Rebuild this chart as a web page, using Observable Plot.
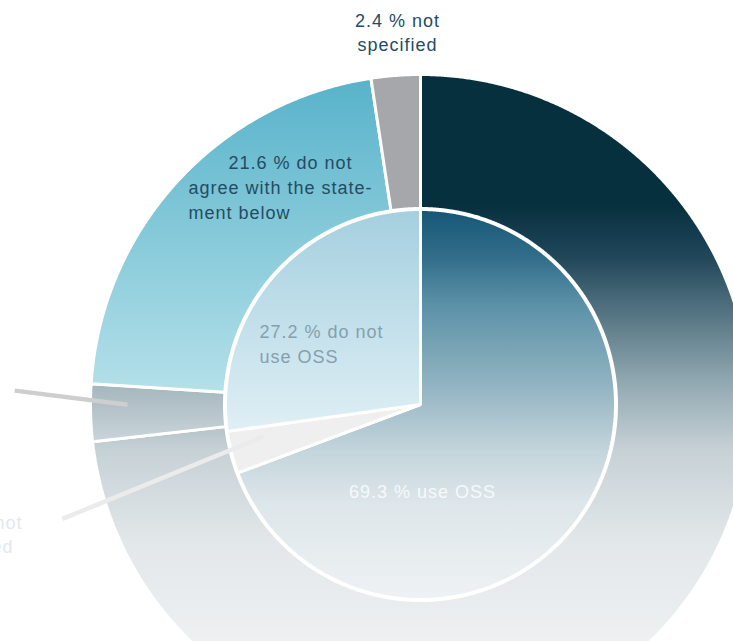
<!DOCTYPE html>
<html>
<head>
<meta charset="utf-8">
<script src="https://cdn.jsdelivr.net/npm/d3@7"></script>
<script src="https://cdn.jsdelivr.net/npm/@observablehq/plot@0.6"></script>
<style>
  html, body { margin: 0; padding: 0; background: #fff; overflow: hidden; }
  #chart svg text { letter-spacing: 1px; }
</style>
</head>
<body>
<div id="chart"></div>
<script>
// ---------- DATA ----------
const innerCategories = ["use OSS", "not specified", "do not use OSS"];
const innerValues = [69.3, 3.5, 27.2];

const outerCategories = ["agree with the statement below", "other", "do not agree with the statement below", "not specified"];
const outerValues = [73.2, 2.8, 21.6, 2.4];

const labelLines = [
  "2.4 % not", "specified",
  "21.6 % do not", "agree with the state-", "ment below",
  "27.2 % do not", "use OSS",
  "69.3 % use OSS",
  "3.5 % not", "specified"
];

// ---------- LAYOUT / STYLE ----------
const W = 733, H = 641;
const cx = 420, cy = 404;                 // pie centre in pixels
const pieR = 195, ringR0 = 196, ringR1 = 330;
const deg = Math.PI / 180;

const innerFills = ["url(#gUse)", "#efefef", "url(#gNotUse)"];
const outerFills = ["url(#gAgree)", "url(#gOther)", "url(#gDisagree)", "#a6a7ab"];

const gradients = [
  {id: "gAgree", y1: 205, y2: 641, stops: [[0, "#07303f"], [0.12, "#21475a"], [0.22, "#4a6b7a"], [0.40, "#8fa7b0"], [0.56, "#c6d1d6"], [0.77, "#e2e7e9"], [1, "#eef0f1"]]},
  {id: "gUse", y1: 208, y2: 600, stops: [[0, "#155675"], [0.13, "#336f8a"], [0.24, "#5a90a7"], [0.44, "#8fb2c0"], [0.62, "#c4d5dc"], [0.75, "#dde6ea"], [1, "#eff2f4"]]},
  {id: "gNotUse", y1: 208, y2: 430, stops: [[0, "#a4cfdf"], [1, "#dfeff5"]]},
  {id: "gDisagree", y1: 80, y2: 390, stops: [[0, "#58b3ca"], [1, "#b4e0e9"]]},
  {id: "gOther", y1: 378, y2: 442, stops: [[0, "#a1b3bb"], [1, "#cad5da"]]}
];

// label layout: pixel anchor, text-anchor, colour (one per labelLines entry)
const labelLayout = [
  {px: 397, py: 26, anchor: "middle", color: "#234c64"},
  {px: 397, py: 50, anchor: "middle", color: "#234c64"},
  {px: 228, py: 168, anchor: "start", color: "#234c64"},
  {px: 188, py: 193, anchor: "start", color: "#234c64"},
  {px: 188, py: 218, anchor: "start", color: "#234c64"},
  {px: 259, py: 337, anchor: "start", color: "#84a0ad"},
  {px: 259, py: 362, anchor: "start", color: "#84a0ad"},
  {px: 422, py: 497, anchor: "middle", color: "#f7f9fa"},
  {px: 22, py: 528, anchor: "end", color: "#e3e8eb"},
  {px: 13, py: 552, anchor: "end", color: "#e3e8eb"}
];

// ---------- GEOMETRY FROM DATA ----------
const pie = d3.pie().sort(null).value(d => d);
const innerArcs = pie(innerValues);
const outerArcs = pie(outerValues);

const polar = (a, r) => ({x: r * Math.sin(a), y: r * Math.cos(a)});

function slicePoints(arc, r0, r1) {
  const a0 = arc.startAngle, a1 = arc.endAngle;
  const n = Math.max(2, Math.ceil((a1 - a0) / (0.25 * deg)));
  const pts = [];
  for (let i = 0; i <= n; i++) pts.push(polar(a0 + (a1 - a0) * i / n, r1));
  if (r0 > 0) {
    for (let i = n; i >= 0; i--) pts.push(polar(a0 + (a1 - a0) * i / n, r0));
  } else {
    pts.push({x: 0, y: 0});
  }
  return pts;
}

const sliceMarks = [
  ...outerArcs.map((arc, i) => Plot.line(slicePoints(arc, ringR0, ringR1), {
    x: "x", y: "y", curve: "linear-closed", fill: outerFills[i],
    stroke: "white", strokeWidth: 3, strokeLinejoin: "miter"
  })),
  ...innerArcs.map((arc, i) => Plot.line(slicePoints(arc, 0, pieR), {
    x: "x", y: "y", curve: "linear-closed", fill: innerFills[i],
    stroke: "white", strokeWidth: 3, strokeLinejoin: "miter"
  }))
];

// leader lines, anchored to slice mid-angles
const mid = arc => (arc.startAngle + arc.endAngle) / 2;
const leaders = [
  {arc: outerArcs[1], aFrom: 3.4, rFrom: 406, aTo: 1.4, rTo: 293, color: "#cecece"},
  {arc: innerArcs[1], aFrom: -3.5, rFrom: 376, aTo: 2.7, rTo: 160, color: "#ebebeb"}
].map(l => {
  const p1 = polar(mid(l.arc) + l.aFrom * deg, l.rFrom);
  const p2 = polar(mid(l.arc) + l.aTo * deg, l.rTo);
  return {x1: p1.x, y1: p1.y, x2: p2.x, y2: p2.y, color: l.color};
});

const labels = labelLines.map((t, i) => ({
  text: t,
  x: labelLayout[i].px - cx,
  y: cy - labelLayout[i].py,
  anchor: labelLayout[i].anchor,
  color: labelLayout[i].color
}));

const textMarks = ["start", "middle", "end"].map(anchor =>
  Plot.text(labels.filter(d => d.anchor === anchor), {
    x: "x", y: "y", text: "text", fill: "color",
    textAnchor: anchor, lineAnchor: "bottom",
    fontSize: 18, fontFamily: "Liberation Sans, Arial, sans-serif"
  })
);

const svg = Plot.plot({
  width: W, height: H,
  marginTop: 0, marginRight: 0, marginBottom: 0, marginLeft: 0,
  x: {domain: [-cx, W - cx], range: [0, W], axis: null},
  y: {domain: [-(H - cy), cy], range: [H, 0], axis: null},
  color: {type: "identity"},
  style: {background: "white", overflow: "hidden"},
  marks: [
    ...sliceMarks,
    Plot.link(leaders, {x1: "x1", y1: "y1", x2: "x2", y2: "y2", stroke: "color", strokeWidth: 4.5}),
    ...textMarks
  ]
});

// gradient definitions (pixel space, vertical)
const defs = d3.select(svg).insert("defs", ":first-child");
gradients.forEach(g => {
  const lg = defs.append("linearGradient")
    .attr("id", g.id).attr("gradientUnits", "userSpaceOnUse")
    .attr("x1", 0).attr("x2", 0).attr("y1", g.y1).attr("y2", g.y2);
  g.stops.forEach(([o, c]) => lg.append("stop").attr("offset", o).attr("stop-color", c));
});

document.getElementById("chart").appendChild(svg);
</script>
</body>
</html>
